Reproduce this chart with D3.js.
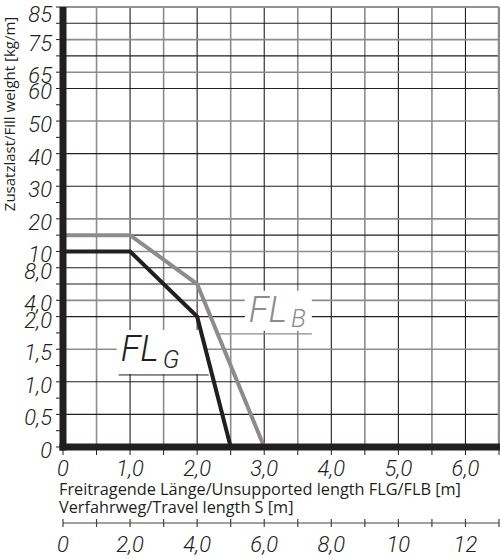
<!DOCTYPE html>
<html>
<head>
<meta charset="utf-8">
<script src="https://cdn.jsdelivr.net/npm/d3@7"></script>
<style>
  body { margin: 0; background: #fff; }
  svg { display: block; }
  .num { font-family: Roboto, "Liberation Sans", sans-serif; font-style: italic; font-weight: 300; fill: #231f20; }
  .ttl { font-family: "Open Sans", "Liberation Sans", sans-serif; fill: #231f20; }
</style>
</head>
<body>
<div id="chart"></div>
<script>
// y axis is a stretched, uneven scale: every level sits on its own grid step
var yLevels = [0, 0.5, 1, 1.5, 2, 4, 6, 8, 10, 15, 20, 30, 40, 50, 60, 65, 70, 75, 80, 85]
var yLevelStep = [0, 2, 4, 6, 8, 9, 10, 11, 12, 13, 14, 16, 18, 20, 22, 23, 24, 25, 26, 27]
var yGray = [85, 75, 65, 50, 20, 10, 4, 1.5]
var yBlack = [80, 70, 60, 40, 30, 15, 8, 6, 2, 1, 0.5]
var yMinor = [0.25, 0.75, 1.25, 1.75, 25, 35, 45, 55]
var yLabels = [0, 0.5, 1, 1.5, 2, 4, 8, 10, 20, 30, 40, 50, 60, 65, 75, 85]
var yLabelText = ['0', '0,5', '1,0', '1,5', '2,0', '4,0', '8,0', '10', '20', '30', '40', '50', '60', '65', '75', '85']

var xHalf = [0.5, 1.5, 2.5, 3.5, 4.5, 5.5]
var xWhole = [1, 2, 3, 4, 5, 6]
var xTicks = [0, 0.5, 1, 1.5, 2, 2.5, 3, 3.5, 4, 4.5, 5, 5.5, 6, 6.5]
var xLabels = [0, 1, 2, 3, 4, 5, 6]
var xLabelText = ['0', '1,0', '2,0', '3,0', '4,0', '5,0', '6,0']

var sTicks = [0, 1, 2, 3, 4, 5, 6, 7, 8, 9, 10, 11, 12, 13]
var sLabels = [0, 2, 4, 6, 8, 10, 12]
var sLabelText = ['0', '2,0', '4,0', '6,0', '8,0', '10', '12']

// FLG / FLB curves (length m, fill weight kg/m)
var flgX = [0, 1, 2, 2.5]
var flgY = [10, 10, 2, 0]
var flbX = [0, 1, 2, 3]
var flbY = [15, 15, 6, 0]

var width = 500, height = 559
var black = '#231f20', gray = '#8c8c8c'

var pLeft = 63, pRight = 499, pBottom = 447, pTop = 7
var step = (pBottom - pTop) / 27

var x = d3.scaleLinear().domain([0, 6.5]).range([pLeft, pRight])
var s = d3.scaleLinear().domain([0, 13]).range([pLeft, pRight])
var y = d3.scaleLinear().domain(yLevels).range(yLevelStep.map(function(k) { return pBottom - k * step }))

var svg = d3.select('#chart').append('svg').attr('width', width).attr('height', height)

// grid
var grid = svg.append('g')
grid.selectAll('.vh').data(xHalf).join('line')
  .attr('x1', d => x(d)).attr('x2', d => x(d)).attr('y1', pTop).attr('y2', pBottom)
  .attr('stroke', gray).attr('stroke-width', 1.6)
grid.selectAll('.vw').data(xWhole).join('line')
  .attr('x1', d => x(d)).attr('x2', d => x(d)).attr('y1', pTop).attr('y2', pBottom)
  .attr('stroke', black).attr('stroke-width', 1.1)
grid.selectAll('.hg').data(yGray).join('line')
  .attr('x1', pLeft).attr('x2', pRight).attr('y1', d => y(d)).attr('y2', d => y(d))
  .attr('stroke', gray).attr('stroke-width', 1.6)
grid.selectAll('.hb').data(yBlack).join('line')
  .attr('x1', pLeft).attr('x2', pRight).attr('y1', d => y(d)).attr('y2', d => y(d))
  .attr('stroke', black).attr('stroke-width', 1.1)

// right border
svg.append('line').attr('x1', pRight).attr('x2', pRight).attr('y1', pTop).attr('y2', pBottom + 3)
  .attr('stroke', gray).attr('stroke-width', 2.5)

// left ticks
svg.append('g').selectAll('line').data(yLevels.concat(yMinor)).join('line')
  .attr('x1', pLeft - 7).attr('x2', pLeft).attr('y1', d => y(d)).attr('y2', d => y(d))
  .attr('stroke', black).attr('stroke-width', 1)

// label knockouts
var labG = {x: 0.86, y: 1.32}
var labB = {x: 2.77, y: 1.92}
svg.append('rect').attr('x', x(labG.x) - 4).attr('y', y(labG.y) - 31).attr('width', 89).attr('height', 44).attr('fill', '#fff')
svg.append('rect').attr('x', x(labB.x) - 4).attr('y', y(labB.y) - 31).attr('width', 67).attr('height', 40).attr('fill', '#fff')

// curves
var line = d3.line().x(d => x(d[0])).y(d => y(d[1]))
svg.append('path').datum(d3.zip(flbX, flbY)).attr('d', line)
  .attr('fill', 'none').attr('stroke', gray).attr('stroke-width', 4).attr('stroke-linejoin', 'miter')
svg.append('path').datum(d3.zip(flgX, flgY)).attr('d', line)
  .attr('fill', 'none').attr('stroke', black).attr('stroke-width', 4).attr('stroke-linejoin', 'miter')

// curve labels
var tG = svg.append('text').attr('class', 'num').attr('x', x(labG.x)).attr('y', y(labG.y))
  .style('font-size', '36px').attr('fill', black)
tG.append('tspan').text('FL')
tG.append('tspan').attr('dx', 4).attr('dy', 7).style('font-size', '25px').text('G')
svg.append('line').attr('x1', x(labG.x) - 2).attr('x2', x(labG.x) + 88)
  .attr('y1', y(labG.y) + 14).attr('y2', y(labG.y) + 14).attr('stroke', black).attr('stroke-width', 1)

var tB = svg.append('text').attr('class', 'num').attr('x', x(labB.x)).attr('y', y(labB.y))
  .style('font-size', '36px').style('fill', gray)
tB.append('tspan').text('FL')
tB.append('tspan').attr('dx', 4).attr('dy', 5).style('font-size', '25px').text('B')
svg.append('line').attr('x1', x(labB.x) - 33).attr('x2', x(labB.x) + 63)
  .attr('y1', y(labB.y) + 12).attr('y2', y(labB.y) + 12).attr('stroke', gray).attr('stroke-width', 1.2)

// top border
svg.append('line').attr('x1', pLeft).attr('x2', pRight).attr('y1', pTop).attr('y2', pTop)
  .attr('stroke', gray).attr('stroke-width', 1.5)

// thick axes
svg.append('line').attr('x1', pLeft).attr('x2', pLeft).attr('y1', pTop).attr('y2', pBottom + 3.5)
  .attr('stroke', black).attr('stroke-width', 7)
svg.append('line').attr('x1', pLeft - 3.5).attr('x2', pRight + 1).attr('y1', pBottom).attr('y2', pBottom)
  .attr('stroke', black).attr('stroke-width', 7)

// bottom ticks
svg.append('g').selectAll('line').data(xTicks).join('line')
  .attr('x1', d => x(d)).attr('x2', d => x(d)).attr('y1', pBottom).attr('y2', pBottom + 8)
  .attr('stroke', black).attr('stroke-width', 1)

// y labels
svg.append('g').selectAll('text').data(yLabels).join('text')
  .attr('class', 'num').attr('text-anchor', 'end')
  .attr('x', 52).attr('y', d => Math.max(y(d) + 11, 22))
  .style('font-size', '22px')
  .text((d, i) => yLabelText[i])

// x labels
svg.append('g').selectAll('text').data(xLabels).join('text')
  .attr('class', 'num').attr('text-anchor', 'middle')
  .attr('x', d => x(d)).attr('y', 476)
  .style('font-size', '22px')
  .text((d, i) => xLabelText[i])

svg.append('text').attr('class', 'ttl').attr('x', 59).attr('y', 495).style('font-size', '16.3px')
  .text('Freitragende Länge/Unsupported length FLG/FLB [m]')
svg.append('text').attr('class', 'ttl').attr('x', 59).attr('y', 513).style('font-size', '16.3px')
  .text('Verfahrweg/Travel length S [m]')

svg.append('text').attr('class', 'ttl')
  .attr('transform', 'translate(15,' + 114 + ') rotate(-90)')
  .attr('text-anchor', 'middle').style('font-size', '15px')
  .text('Zusatzlast/Fill weight [kg/m]')

// travel length axis
var sy = 523
svg.append('line').attr('x1', s(0)).attr('x2', s(13)).attr('y1', sy).attr('y2', sy)
  .attr('stroke', '#444').attr('stroke-width', 1.2)
svg.append('g').selectAll('line').data(sTicks).join('line')
  .attr('x1', d => s(d)).attr('x2', d => s(d)).attr('y1', sy - 4).attr('y2', sy + 4)
  .attr('stroke', '#444').attr('stroke-width', 1.2)
svg.append('g').selectAll('text').data(sLabels).join('text')
  .attr('class', 'num').attr('text-anchor', 'middle')
  .attr('x', d => s(d)).attr('y', 552)
  .style('font-size', '22px')
  .text((d, i) => sLabelText[i])
</script>
</body>
</html>
